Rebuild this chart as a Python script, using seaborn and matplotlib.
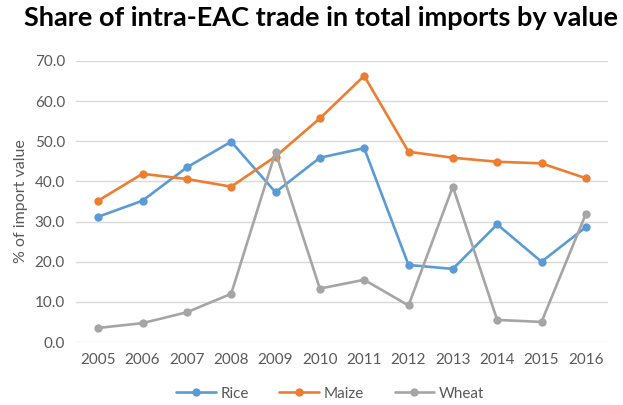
import matplotlib
matplotlib.use("Agg")
import matplotlib.pyplot as plt
import seaborn as sns
import pandas as pd
from matplotlib.lines import Line2D

years = [2005, 2006, 2007, 2008, 2009, 2010, 2011, 2012, 2013, 2014, 2015, 2016]
rice = [31.2, 35.2, 43.5, 49.9, 37.3, 45.9, 48.3, 19.2, 18.2, 29.3, 20.0, 28.6]
maize = [35.2, 41.9, 40.6, 38.7, 46.2, 55.7, 66.3, 47.4, 45.9, 44.9, 44.5, 40.8]
wheat = [3.5, 4.7, 7.4, 12.0, 47.3, 13.3, 15.5, 9.1, 38.7, 5.5, 5.0, 31.9]
series_names = ["Rice", "Maize", "Wheat"]
colors = ["#5B9BD5", "#ED7D31", "#A5A5A5"]
yticks = [0, 10, 20, 30, 40, 50, 60, 70]

df = pd.DataFrame({
    "Year": years * 3,
    "Value": rice + maize + wheat,
    "Crop": [series_names[0]] * len(years) + [series_names[1]] * len(years) + [series_names[2]] * len(years),
})

sns.set_style("white")
plt.rcParams["font.family"] = ["Lato", "DejaVu Sans"]

fig = plt.figure(figsize=(6.23, 4.05), dpi=100)
ax = fig.add_axes([76 / 623, 63 / 405, (608 - 76) / 623, (342 - 61) / 405])

sns.lineplot(data=df, x="Year", y="Value", hue="Crop", hue_order=series_names,
             palette=colors, marker="o", markersize=6, markeredgewidth=0,
             linewidth=1.9, ax=ax, legend=False)

ax.set_xlim(2004.5, 2016.5)
ax.set_ylim(0, 70)
ax.set_yticks(yticks)
ax.set_yticklabels([f"{v:.1f}" for v in yticks])
ax.set_xticks(years)
ax.set_xticklabels([str(y) for y in years])
ax.grid(axis="y", color="#D9D9D9", linewidth=1)
ax.set_axisbelow(True)
for s in ax.spines.values():
    s.set_visible(False)
ax.tick_params(axis="both", length=0, labelsize=11, labelcolor="#595959", pad=8)
ax.set_xlabel("")
ax.set_ylabel("% of import value", fontsize=11.5, color="#595959", labelpad=5)

fig.suptitle("Share of intra-EAC trade in total imports by value", x=0.515, y=0.985,
             fontsize=19.5, fontweight="bold", color="black")

handles = [Line2D([0], [0], color=c, marker="o", markersize=6, markeredgewidth=0, linewidth=1.9)
           for c in colors]
fig.legend(handles, series_names, loc="center", bbox_to_anchor=(0.53, 0.028), ncol=3,
           frameon=False, fontsize=11, labelcolor="#595959", handlelength=2.6,
           columnspacing=2.0, handletextpad=0.3)

fig.savefig("out.png", dpi=100)
